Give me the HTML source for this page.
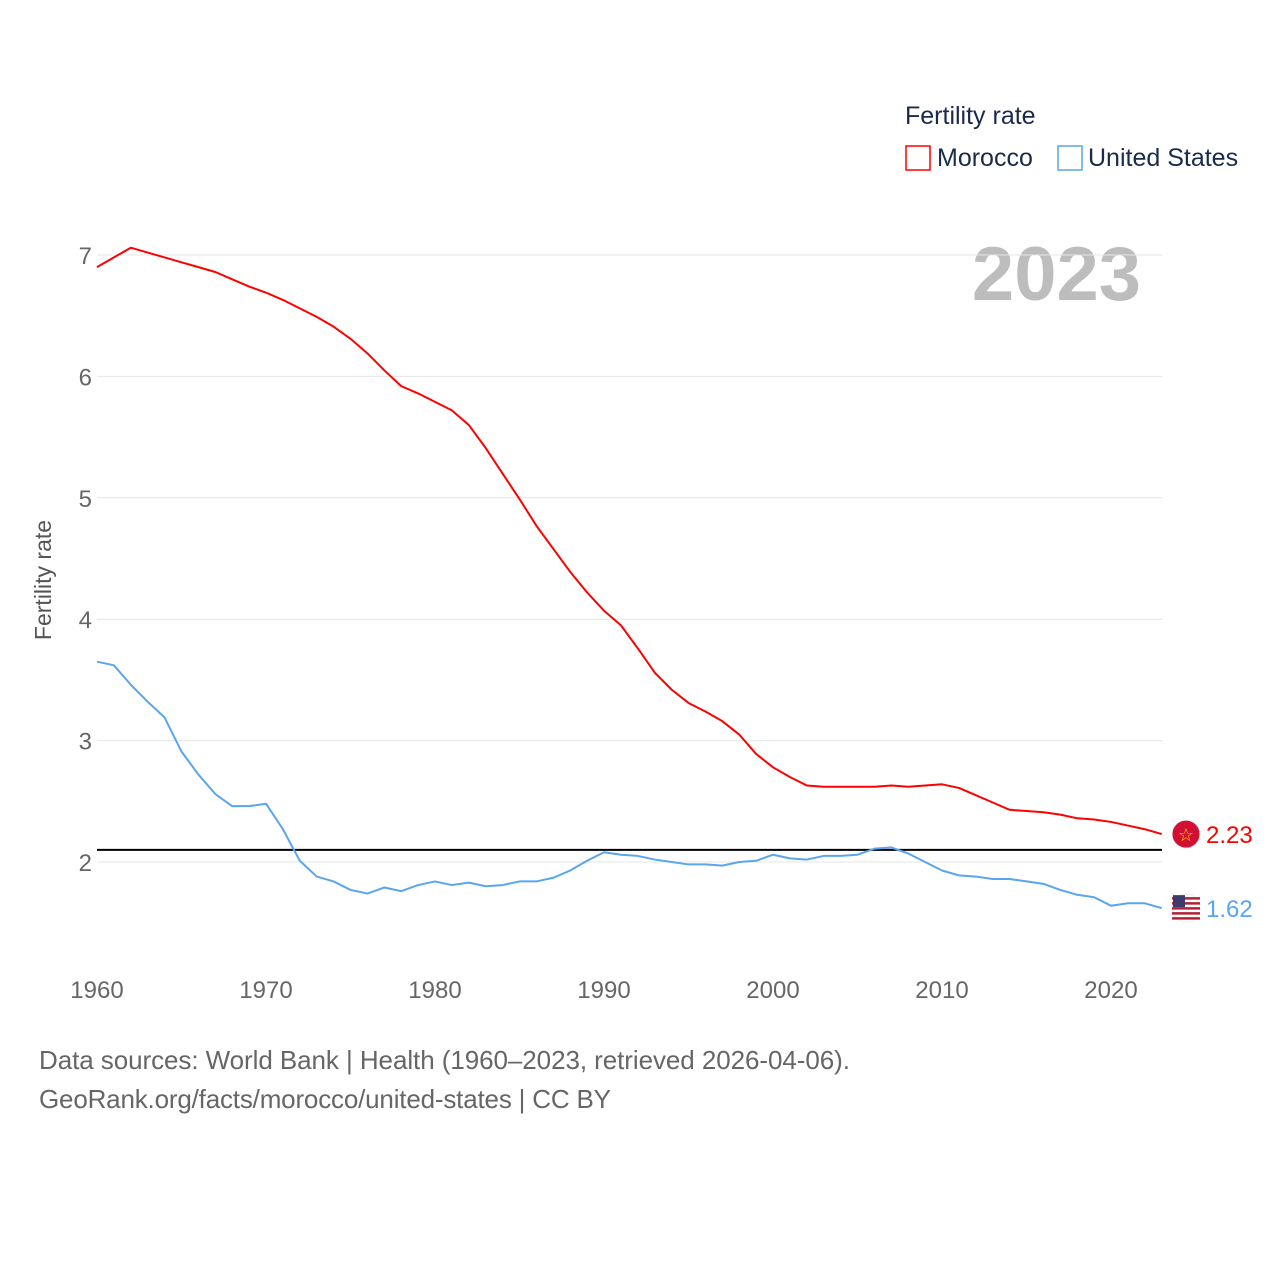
<!DOCTYPE html>
<html><head><meta charset="utf-8">
<style>
body{margin:0;background:#fff;font-family:"Liberation Sans",sans-serif}
svg{display:block}
</style></head>
<body>
<svg width="1280" height="1280" id="chart">
<text x="905" y="124" font-size="25" fill="#1a2a4a">Fertility rate</text>
<g>
<rect x="906" y="146" width="24" height="24" fill="none" stroke="#f00" stroke-width="1.5"/>
<text x="937" y="166" font-size="25" fill="#1a2a4a">Morocco</text></g>
<g>
<rect x="1058" y="146" width="24" height="24" fill="none" stroke="#5aa5ee" stroke-width="1.5"/>
<text x="1088" y="166" font-size="25" fill="#1a2a4a">United States</text></g>
<text x="1141" y="300" font-size="76" font-weight="bold" fill="#bdbdbd" text-anchor="end">2023</text>
<text transform="translate(51,580) rotate(-90)" font-size="23" fill="#555" text-anchor="middle">Fertility rate</text>
<g id="grid"></g><g id="lines"></g>
<text x="39" y="1069" font-size="26" fill="#666" textLength="811">Data sources: World Bank | Health (1960–2023, retrieved 2026-04-06).</text>
<text x="39" y="1108" font-size="26" fill="#666" textLength="572">GeoRank.org/facts/morocco/united-states | CC BY</text>
</svg>
<script>
const years=[];for(let y=1960;y<=2023;y++)years.push(y);
const morocco=[6.90,6.98,7.06,7.02,6.98,6.94,6.90,6.86,6.80,6.74,6.69,6.63,6.56,6.49,6.41,6.31,6.19,6.05,5.92,5.86,5.79,5.72,5.60,5.41,5.20,4.99,4.77,4.58,4.39,4.22,4.07,3.95,3.76,3.56,3.42,3.31,3.24,3.16,3.05,2.89,2.78,2.70,2.63,2.62,2.62,2.62,2.62,2.63,2.62,2.63,2.64,2.61,2.55,2.49,2.43,2.42,2.41,2.39,2.36,2.35,2.33,2.30,2.27,2.23];
const usa=[3.65,3.62,3.46,3.32,3.19,2.91,2.72,2.56,2.46,2.46,2.48,2.27,2.01,1.88,1.84,1.77,1.74,1.79,1.76,1.81,1.84,1.81,1.83,1.80,1.81,1.84,1.84,1.87,1.93,2.01,2.08,2.06,2.05,2.02,2.00,1.98,1.98,1.97,2.00,2.01,2.06,2.03,2.02,2.05,2.05,2.06,2.11,2.12,2.07,2.00,1.93,1.89,1.88,1.86,1.86,1.84,1.82,1.77,1.73,1.71,1.64,1.66,1.66,1.62];
const yTicks=[2,3,4,5,6,7];
const xTicks=[1960,1970,1980,1990,2000,2010,2020];
const replacement=2.1;
const NS="http://www.w3.org/2000/svg";
const X=y=>97+(y-1960)*(1111-97)/60;
const Y=v=>862-(v-2)*121.4;
const grid=document.getElementById('grid'),lines=document.getElementById('lines');
function mk(tag,attrs,parent){const e=document.createElementNS(NS,tag);for(const k in attrs)e.setAttribute(k,attrs[k]);parent.appendChild(e);return e;}
yTicks.forEach(t=>{
const l=mk('line',{x1:97,x2:1162,y1:Y(t),y2:Y(t),stroke:'#e6e6e6','stroke-width':1},grid);


const tx=mk('text',{x:92,y:Y(t)+9,'font-size':24,fill:'#666','text-anchor':'end'},grid);tx.textContent=t;


});
xTicks.forEach(t=>{
const tx=mk('text',{x:X(t),y:998,'font-size':24,fill:'#666','text-anchor':'middle'},grid);tx.textContent=t;


});
const rl=mk('line',{x1:97,x2:1162,y1:Y(replacement),y2:Y(replacement),stroke:'#000','stroke-width':2},lines);


function series(vals,color,name){
const p=mk('polyline',{points:vals.map((v,i)=>X(years[i])+','+Y(v)).join(' '),fill:'none',stroke:color,'stroke-width':2,'stroke-linejoin':'round'},lines);


const last=vals[vals.length-1];
const c=mk('circle',{cx:1186,cy:Y(last),r:14,fill:name=='morocco'?'#d21034':'#fff',stroke:'#eee'},lines);


if(name=='usa'){for(let k=0;k<5;k++)mk('rect',{x:1172,y:Y(last)-11+k*5,width:28,height:2.5,fill:'#b22234'},lines);
mk('rect',{x:1173,y:Y(last)-13,width:12,height:12,fill:'#3c3b6e'},lines);}
else{const s=mk('text',{x:1186,y:Y(last)+7,'font-size':18,fill:'#ffd700','text-anchor':'middle'},lines);s.textContent='☆';}
const t=mk('text',{x:1206,y:Y(last)+9,'font-size':24,fill:color},lines);t.textContent=last.toFixed(2);


}
series(morocco,'#f00','morocco');
series(usa,'#5aa5ee','usa');
</script>
</body></html>
